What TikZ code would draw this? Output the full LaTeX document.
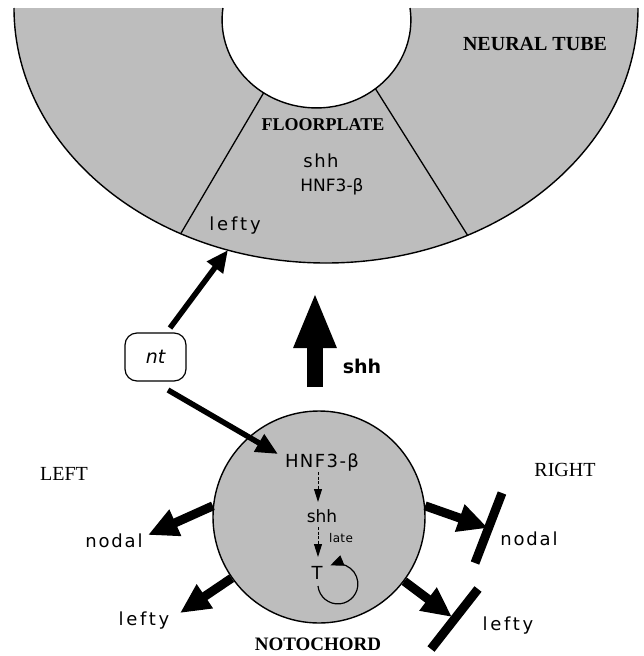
\documentclass[tikz,border=0pt]{standalone}
\usepackage{fontspec}
\setmainfont{Liberation Serif}
\newfontfamily\labfont{DejaVu Sans}
\usetikzlibrary{arrows.meta}

\tikzset{
  tissue/.style={fill=black!26},
  outline/.style={line width=1.4pt},
  region/.style={inner sep=0pt, font=\bfseries\fontsize{#1}{#1}\selectfont},
  region/.default=20,
  side/.style={inner sep=0pt, font=\fontsize{20}{20}\selectfont},
  gene/.style 2 args={inner sep=0pt, font=\labfont\fontsize{#1}{#1}\selectfont\addfontfeature{LetterSpace=#2}},
  fatarrow/.style={line width=9pt, -{Triangle[length=30pt,width=27pt]}},
  slimarrow/.style={line width=5.5pt, -{Triangle[length=22pt,width=19pt]}},
  bigarrow/.style={line width=16pt, -{Triangle[length=56pt,width=39pt]}},
  minorarrow/.style={line width=0.9pt, dash pattern=on 3pt off 1.5pt, -{Triangle[length=13pt,width=8pt]}},
  block/.style={line width=9pt},
  cut/.style={line width=1.3pt}
}

\begin{document}
\begin{tikzpicture}[x=1pt,y=-1pt]
\useasboundingbox (0,0) rectangle (644,656);

% neural tube: half ring with the central canal
\path[tissue] (14,8) arc[start angle=180, end angle=0, x radius=312, y radius=255]
  -- (410,8) arc[start angle=-7.8, end angle=187.8, x radius=94.4, y radius=88] -- cycle;
\begin{scope}
  \clip (14,8) arc[start angle=180, end angle=0, x radius=312, y radius=255]
    -- (410,8) arc[start angle=-7.8, end angle=187.8, x radius=94.4, y radius=88] -- cycle;
  \draw[cut] (270,82) -- (177,240);
  \draw[cut] (368.7,78) -- (473.7,245);
\end{scope}
\draw[outline] (14,8) arc[start angle=180, end angle=0, x radius=312, y radius=255];
\draw[outline] (410,8) arc[start angle=-7.8, end angle=187.8, x radius=94.4, y radius=88];

\node[region] (tube) at (535,44) {NEURAL TUBE};
\node[region=18] (fp) at (323,124.5) {FLOORPLATE};
\node[gene={18}{8}] (fpshh) at (321,161) {shh};
\node[gene={17}{0}] (fphnf) at (332,187) {HNF3-β};
\node[gene={18}{16}] (fplefty) at (235,226) {lefty};

% notochord
\node[circle, draw, tissue, outline, minimum size=212pt, inner sep=0pt] (noto) at (319,517) {};
\node[gene={18}{8}] (nhnf) at (322,462) {HNF3-β};
\node[gene={17}{0}] (nshh) at (322,516) {shh};
\node[gene={12}{3}] (late) at (341,538) {late};
\node[gene={18}{0}] (nT) at (317,573) {T};
\node[region=19] (notolab) at (318,644) {NOTOCHORD};

\node[side] (left) at (64,474) {LEFT};
\node[side] (right) at (565,470) {RIGHT};

% nt
\node[draw, line width=1.2pt, rounded corners=12pt, minimum width=61pt, minimum height=48pt,
  font=\labfont\itshape\fontsize{19}{19}\selectfont] (nt) at (155.5,357) {nt};

% side genes
\node[gene={18}{10}] (lnodal) at (114,541) {nodal};
\node[gene={18}{15}] (llefty) at (144,621) {lefty};
\node[gene={18}{10}] (rnodal) at (529,539) {nodal};
\node[gene={18}{15}] (rlefty) at (508,626) {lefty};
\node[inner sep=0pt, font=\labfont\bfseries\fontsize{19}{19}\selectfont] (sigshh) at (362,366) {shh};

% connector end points
\coordinate (ntup) at (170,328);
\coordinate (fptip) at (228,250);
\coordinate (ntdown) at (168,390);
\coordinate (hnftip) at (278,454);
\coordinate (shhbase) at (315,387);
\coordinate (shhtip) at (315,292);
\coordinate (lnodtip) at (148,535);
\coordinate (llefttip) at (180,613);
\coordinate (rnodtip) at (488,528);
\coordinate (rlefttip) at (452,617);
\coordinate (bar1a) at (502,493);
\coordinate (bar1b) at (475,563);
\coordinate (bar2a) at (478,589);
\coordinate (bar2b) at (431,649);
\coordinate (hnfdown) at (318,472);
\coordinate (shhtop) at (318,502);
\coordinate (shhdown) at (318,527);
\coordinate (Ttop) at (318,557);

% signalling arrows
\draw[slimarrow] (ntup) -- (fptip);
\draw[slimarrow] (ntdown) -- (hnftip);
\draw[bigarrow] (shhbase) -- (shhtip);

% left-right outputs of the notochord
\draw[fatarrow] (noto.174.6) -- (lnodtip);
\draw[fatarrow] (noto.215) -- (llefttip);
\draw[fatarrow] (noto.6.5) -- (rnodtip);
\draw[fatarrow] (noto.323.8) -- (rlefttip);
\draw[block] (bar1a) -- (bar1b);
\draw[block] (bar2a) -- (bar2b);

% cascade inside the notochord
\draw[minorarrow] (hnfdown) -- (shhtop);
\draw[minorarrow] (shhdown) -- (Ttop);
\draw[line width=1.2pt, -{Triangle[length=13pt,width=11pt]}]
  (318,586) arc[start angle=174, end angle=-112, radius=20];
\end{tikzpicture}
\end{document}
